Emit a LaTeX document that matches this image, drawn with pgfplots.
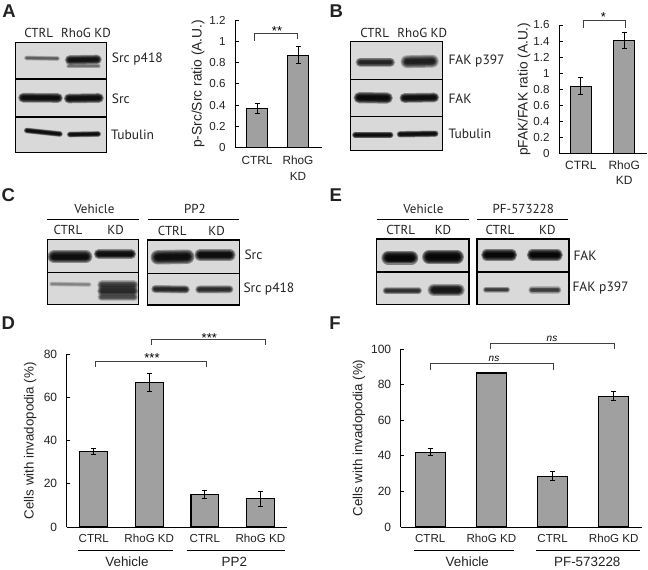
\documentclass[border=0pt]{standalone}
\usepackage{fontspec}
\usepackage{pgfplots}
\usepackage{pgfplotstable}
\pgfplotsset{compat=1.18}
\setmainfont{Liberation Sans}
\newfontfamily\blotfont{PT Sans}

\definecolor{barfill}{HTML}{A0A0A0}
\definecolor{inktext}{HTML}{222222}
\definecolor{blotbg}{HTML}{D9D9D9}
\definecolor{bracket}{HTML}{404040}

\pgfplotstableread{
x y e
0 0.37 0.05
1 0.87 0.08
}\dataA
\pgfplotstableread{
x y e
0 0.84 0.11
1 1.41 0.10
}\dataB
\pgfplotstableread{
x y e
0 35 1.4
1 67 4.2
2 15 1.8
3 13 3.3
}\dataD
\pgfplotstableread{
x y e
0 42 2.1
1 86.5 0.4
2 28.5 2.6
3 73.5 2.7
}\dataF

\pgfplotsset{
  panel/.style={
    scale only axis,
    anchor=south west,
    ybar,
    enlargelimits=false,
    axis x line=bottom,
    axis y line=left,
    axis line style={-,line width=1pt,black},
    xtick=data,
    x tick style={draw=none},
    y tick style={black,line width=0.8pt},
    tick align=inside,
    major tick length=3.5pt,
    ymin=0,
    tick label style={font=\fontsize{11.6}{15}\selectfont,text=inktext},
    ylabel style={text=inktext},
    yticklabel style={xshift=-6pt},
    /pgf/number format/assume math mode=true,
    xticklabel style={align=center,yshift=-4pt},
  },
  barstyle/.style={
    fill=barfill,draw=black,line width=1.1pt,
    error bars/.cd,y dir=both,y explicit,
    error bar style={line width=1pt,black},
    error mark options={rotate=90,mark size=2.5pt,line width=1pt,black},
  },
}

% smeared western-blot band: x1,y1,x2,y2,thickness,opacity per stroke
\newcommand{\band}[6]{%
  \foreach \k in {1.6,1.35,1.1,0.9,0.7,0.5}{%
    \draw[line cap=round,black,opacity=#6,line width=\k*#5pt]
      ({#1+#5/2},#2) -- ({#3-#5/2},#4);}}
% blot frame: x1,y1,x2,y2
\newcommand{\blotbox}[4]{\fill[blotbg] (#1,#2) rectangle (#3,#4);}
\newcommand{\blotframe}[4]{\draw[black,line width=1.2pt] (#1,#2) rectangle (#3,#4);}
\newcommand{\bracketline}[5]{\draw[bracket,line width=0.8pt] (#1,#4) -- (#1,#3) -- (#2,#3) -- (#2,#5);}
\newcommand{\panelletter}[3]{\node[font=\fontsize{18.5}{20}\selectfont\bfseries,text=inktext] at (#1,#2) {#3};}
\newcommand{\blotlabel}[3]{\node[font=\blotfont\fontsize{13}{15}\selectfont,text=inktext] at (#1,#2) {#3};}
\newcommand{\sidelabel}[3]{\node[anchor=west,inner sep=0pt,font=\blotfont\fontsize{13.5}{15}\selectfont,text=inktext] at (#1,#2) {#3};}
\newcommand{\stars}[3]{\node[font=\fontsize{13}{14}\selectfont] at (#1,#2) {#3};}
\newcommand{\groupname}[3]{\node[font=\fontsize{13.4}{15}\selectfont,text=inktext] at (#1,#2) {#3};}

\begin{document}
\begin{tikzpicture}
\useasboundingbox (0pt,0pt) rectangle (648pt,-570pt);

% panel A
\begin{axis}[panel,at={(235pt,-147.7pt)},width=86.7pt,height=127.7pt,
  xmin=-0.537,xmax=1.578,ymax=1.2,bar width=20.8pt,
  ytick={0,0.2,0.4,0.6,0.8,1,1.2},
  xticklabels={CTRL,{RhoG\\KD}},
  xticklabel style={yshift=-1pt,font=\fontsize{11.8}{16}\selectfont},
  ylabel={p-Src/Src ratio (A.U.)},
  y label style={font=\fontsize{13.8}{16}\selectfont,at={(axis description cs:-0.427,0.5)},anchor=center}]
\addplot[barstyle] table[x=x,y=y,y error=e] {\dataA};
\end{axis}

% panel B
\begin{axis}[panel,at={(559pt,-153.7pt)},width=88pt,height=128.7pt,
  xmin=-0.505,xmax=1.525,ymax=1.6,bar width=21pt,
  ytick={0,0.2,0.4,0.6,0.8,1,1.2,1.4,1.6},
  xticklabels={CTRL,{RhoG\\KD}},
  xticklabel style={font=\fontsize{12}{15}\selectfont},
  ylabel={pFAK/FAK ratio (A.U.)},
  y label style={font=\fontsize{13.7}{16}\selectfont,at={(axis description cs:-0.398,0.5)},anchor=center}]
\addplot[barstyle] table[x=x,y=y,y error=e] {\dataB};
\end{axis}

% panel D
\begin{axis}[panel,at={(66.7pt,-527pt)},width=220.6pt,height=172.7pt,
  xmin=-0.488,xmax=3.486,ymax=80,bar width=27.7pt,
  ytick={0,20,40,60,80},
  yticklabel style={font=\fontsize{12}{15}\selectfont},
  xticklabels={CTRL,RhoG KD,CTRL,RhoG KD},
  ylabel={Cells with invadopodia (\%)},
  y label style={font=\fontsize{13.3}{15}\selectfont,at={(axis description cs:-0.166,0.5)},anchor=center}]
\addplot[barstyle] table[x=x,y=y,y error=e] {\dataD};
\end{axis}

% panel F
\begin{axis}[panel,at={(400.7pt,-527pt)},width=241.6pt,height=178pt,
  xmin=-0.482,xmax=3.466,ymax=100,bar width=30pt,
  ytick={0,20,40,60,80,100},
  yticklabel style={font=\fontsize{12}{15}\selectfont},
  xticklabels={CTRL,RhoG KD,CTRL,RhoG KD},
  ylabel={Cells with invadopodia (\%)},
  y label style={font=\fontsize{13.3}{15}\selectfont,at={(axis description cs:-0.173,0.5)},anchor=center}]
\addplot[barstyle] table[x=x,y=y,y error=e] {\dataF};
\end{axis}

\begin{scope}[x=1pt,y=-1pt]
% letters
\panelletter{9}{10.7}{A}
\panelletter{336.3}{10.7}{B}
\panelletter{8.3}{195}{C}
\panelletter{335.7}{195}{E}
\panelletter{8.3}{322.7}{D}
\panelletter{335}{322.7}{F}

% blot A
\blotbox{15.7}{42.3}{106.7}{152.3}
\band{25}{58}{59}{58.5}{3}{0.13}
\band{66.7}{60}{100}{59.5}{6}{0.33}
\band{67}{66}{100}{66}{3}{0.1}
\band{20}{97.7}{61}{98}{6}{0.36}
\band{65.7}{98.5}{102}{98}{6}{0.36}
\band{25}{130.5}{61.7}{134}{3.5}{0.36}
\band{68}{134.5}{100}{134}{3.5}{0.36}
\blotframe{15.7}{42.3}{106.7}{152.3}
\draw[black,line width=1.2pt] (15.7,79) -- (106.7,79) (15.7,117) -- (106.7,117);
\blotlabel{38.7}{32.7}{CTRL}
\blotlabel{86}{32.7}{RhoG KD}
\sidelabel{111.7}{59.3}{Src p418}
\sidelabel{111.7}{98.3}{Src}
\sidelabel{111}{135}{Tubulin}

% blot B
\blotbox{350.7}{41.7}{442.3}{150.7}
\band{357.3}{62.3}{393.3}{62.3}{6}{0.25}
\band{403}{61.7}{436.3}{61.2}{8}{0.27}
\band{355.7}{97.7}{390.7}{98}{7}{0.38}
\band{401.3}{98}{437.3}{97.5}{6}{0.36}
\band{353.3}{135}{392.3}{135}{4}{0.36}
\band{398}{134.3}{437.3}{133.7}{4}{0.36}
\blotframe{350.7}{41.7}{442.3}{150.7}
\draw[black,line width=1.2pt] (350.7,79.3) -- (442.3,79.3) (350.7,116.7) -- (442.3,116.7);
\blotlabel{374.7}{33.3}{CTRL}
\blotlabel{422.3}{33.3}{RhoG KD}
\sidelabel{448.3}{60.7}{FAK p397}
\sidelabel{448.3}{98.3}{FAK}
\sidelabel{448.3}{134}{Tubulin}

% blot C
\blotbox{47.3}{239.3}{138.7}{304.3}
\blotbox{147.7}{240}{239.3}{305}
\band{50}{256.7}{90}{256.7}{8}{0.36}
\band{95.7}{254}{134.3}{254}{6}{0.36}
\band{153.3}{257.3}{191.7}{256.7}{9}{0.36}
\band{196.7}{255}{233.3}{255}{7.5}{0.36}
\band{50}{284}{90.7}{284.5}{3}{0.08}
\band{99}{285}{136.7}{285}{6}{0.2}
\band{99}{291}{136.7}{291}{6}{0.24}
\band{99}{297}{136.7}{297}{5}{0.16}
\band{152.7}{289}{188.3}{289.5}{5}{0.25}
\band{196.7}{289.5}{232}{289.3}{5}{0.23}
\blotframe{47.3}{239.3}{138.7}{304.3}
\blotframe{147.7}{240}{239.3}{305}
\draw[black,line width=1.2pt] (47.3,272.3) -- (138.7,272.3) (147.7,273.3) -- (239.3,273.3);
\draw[black,line width=0.9pt] (47.3,219.7) -- (138.7,219.7) (147.7,219.7) -- (238.7,219.7);
\blotlabel{94.3}{209}{Vehicle}
\blotlabel{195}{209}{PP2}
\blotlabel{68}{230}{CTRL}
\blotlabel{115.7}{230}{KD}
\blotlabel{172.3}{231}{CTRL}
\blotlabel{216.7}{231}{KD}
\sidelabel{244.3}{255}{Src}
\sidelabel{243.3}{289.3}{Src p418}

% blot E
\blotbox{376.7}{239}{469}{304.3}
\blotbox{477}{239}{569}{304.3}
\band{384}{257.7}{415.7}{257.7}{8.5}{0.42}
\band{424.7}{257}{461.3}{257}{8.5}{0.42}
\band{483.3}{255}{515}{255}{7}{0.42}
\band{529}{255}{560.7}{255}{7}{0.42}
\band{384}{290.7}{420.7}{290.7}{4.5}{0.22}
\band{430}{290}{462.3}{290}{8}{0.3}
\band{484}{289.7}{509}{289.7}{3.5}{0.19}
\band{529.7}{290}{560}{290}{4.5}{0.19}
\blotframe{376.7}{239}{469}{304.3}
\blotframe{477}{239}{569}{304.3}
\draw[black,line width=1.2pt] (376.7,272) -- (469,272) (477,272) -- (569,272);
\draw[black,line width=0.9pt] (376.7,219.7) -- (468.7,219.7) (477,219.7) -- (568,219.7);
\blotlabel{423.3}{209}{Vehicle}
\blotlabel{523.3}{209}{PF-573228}
\blotlabel{400.7}{230}{CTRL}
\blotlabel{443}{230}{KD}
\blotlabel{500}{230}{CTRL}
\blotlabel{547.3}{230}{KD}
\sidelabel{573.3}{255.7}{FAK}
\sidelabel{572.3}{288.3}{FAK p397}

% significance brackets
\bracketline{254.3}{297.7}{33.3}{40.7}{39}
\stars{277}{31}{**}
\bracketline{583}{625.3}{20}{28.3}{28.3}
\stars{603.3}{17}{*}
\bracketline{95}{206}{361}{366.7}{366.7}
\stars{152}{358.5}{***}
\bracketline{151}{265.3}{339.3}{344.7}{344.7}
\stars{209.3}{338}{***}
\bracketline{430.3}{553.3}{363.7}{370}{370}
\node[font=\fontsize{10}{11}\selectfont\itshape] at (494,358.5) {ns};
\bracketline{490.7}{614}{343.3}{349.3}{349.3}
\node[font=\fontsize{10}{11}\selectfont\itshape] at (552,338.5) {ns};

% group rules and names under the bar panels
\draw[black,line width=0.8pt] (78,550.7) -- (172.7,550.7) (186.7,550.7) -- (285,550.7);
\draw[black,line width=0.8pt] (414,550.7) -- (514,550.7) (536.3,550.7) -- (640,550.7);
\groupname{127}{561.5}{Vehicle}
\groupname{234.3}{561.5}{PP2}
\groupname{467.3}{562}{Vehicle}
\groupname{587.3}{562}{PF-573228}
\end{scope}
\end{tikzpicture}
\end{document}
